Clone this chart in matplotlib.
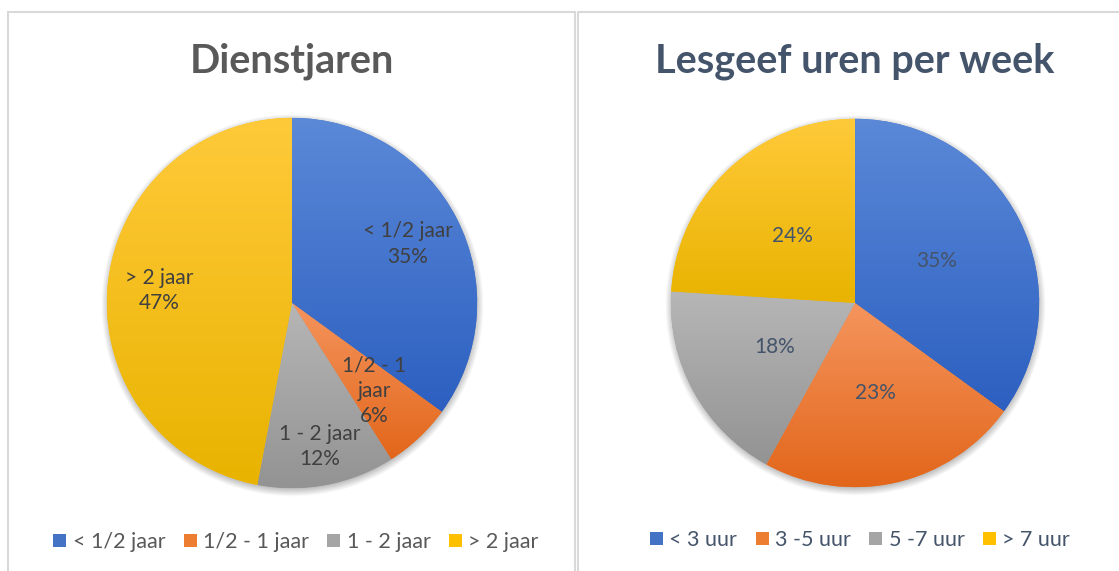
import numpy as np
import matplotlib.pyplot as plt
from matplotlib.patches import Rectangle
from matplotlib.colors import to_rgb

plt.rcParams['font.family'] = ['Lato', 'DejaVu Sans']

# data
dienst_labels = ['< 1/2 jaar', '1/2 - 1 jaar', '1 - 2 jaar', '> 2 jaar']
dienst_pct = [35, 6, 12, 47]
uren_labels = ['< 3 uur', '3 -5 uur', '5 -7 uur', '> 7 uur']
uren_pct = [35, 23, 18, 24]

# kleuren (boven, onder) voor verloop
grad = [('#5B89D8', '#2C5FC0'),
        ('#F5955E', '#E2661A'),
        ('#B6B6B6', '#939393'),
        ('#FFCA3A', '#E9B300')]
mid_col = ['#4472C4', '#ED7D31', '#A5A5A5', '#FFC000']

W, H = 1119, 571
fig = plt.figure(figsize=(W / 100, H / 100), dpi=100)


def px_axes(cx, cy, r):
    return fig.add_axes([(cx - r) / W, (H - cy - r) / H, 2 * r / W, 2 * r / H])


def gradient_pie(ax, values, txt, radii, color, size):
    wedges, _ = ax.pie(values, startangle=90, counterclock=False, radius=1,
                       colors=mid_col, wedgeprops=dict(linewidth=0))
    # zachte schaduw onder de taart
    g = np.linspace(-1.12, 1.12, 400)
    xx, yy = np.meshgrid(g, g)
    d = np.hypot(xx, yy + 0.015)
    a = np.clip((1.035 - d) / 0.06, 0, 1) * 0.35
    sh = np.zeros((400, 400, 4))
    sh[..., 3] = a
    ax.imshow(sh, extent=[-1.12, 1.12, -1.12, 1.12], origin='lower',
              zorder=0.5, clip_on=False, interpolation='bilinear')
    for w, (c1, c2) in zip(wedges, grad):
        ext = w.get_path().get_extents()
        a = np.array(to_rgb(c1))
        b = np.array(to_rgb(c2))
        t = np.linspace(0, 1, 256)[:, None]
        img = (a * (1 - t) + b * t)[:, None, :]
        im = ax.imshow(img, extent=[ext.x0, ext.x1, ext.y0, ext.y1],
                       origin='upper', aspect='auto', zorder=1.5)
        im.set_clip_path(w)
    for w, s, r in zip(wedges, txt, radii):
        th = np.deg2rad((w.theta1 + w.theta2) / 2)
        ax.text(r * np.cos(th), r * np.sin(th), s, ha='center', va='center',
                fontsize=size, color=color, zorder=4, linespacing=1.35)
    ax.set_xlim(-1.01, 1.01)
    ax.set_ylim(-1.01, 1.01)
    ax.set_aspect('equal')
    ax.axis('off')


# panelranden
for x0, x1 in [(8, 575), (578, 1130)]:
    fig.patches.append(Rectangle((x0 / W, -0.1), (x1 - x0) / W, (H - 12) / H + 0.1,
                                 transform=fig.transFigure, fill=False,
                                 edgecolor='#D9D9D9', linewidth=1.5))

ax1 = px_axes(292, 303, 187)
left_txt = ['< 1/2 jaar\n35%', '1/2 - 1\njaar\n6%', '1 - 2 jaar\n12%', '> 2 jaar\n47%']
gradient_pie(ax1, dienst_pct, left_txt, [0.70, 0.65, 0.79, 0.72], '#404040', 15)

ax2 = px_axes(855, 303, 186)
right_txt = [f'{p}%' for p in uren_pct]
gradient_pie(ax2, uren_pct, right_txt, [0.5, 0.5, 0.5, 0.5], '#44546A', 15)

fig.text(292 / W, 1 - 61 / H, 'Dienstjaren', ha='center', va='center',
         fontsize=28.5, fontweight='bold', color='#595959')
fig.text(855 / W, 1 - 61 / H, 'Lesgeef uren per week', ha='center', va='center',
         fontsize=28.5, fontweight='bold', color='#44546A')

for labels, cx, cy, col in [(dienst_labels, 296, 542, '#595959'),
                            (uren_labels, 860, 540, '#44546A')]:
    handles = [Rectangle((0, 0), 1, 1, facecolor=c, edgecolor='none') for c in mid_col]
    leg = fig.legend(handles, labels, loc='center', bbox_to_anchor=(cx / W, 1 - cy / H),
                     ncol=4, frameon=False, fontsize=15.5, handlelength=0.6,
                     handleheight=0.6, handletextpad=0.3, columnspacing=0.85,
                     labelcolor=col)

fig.savefig('out.png', dpi=100)
